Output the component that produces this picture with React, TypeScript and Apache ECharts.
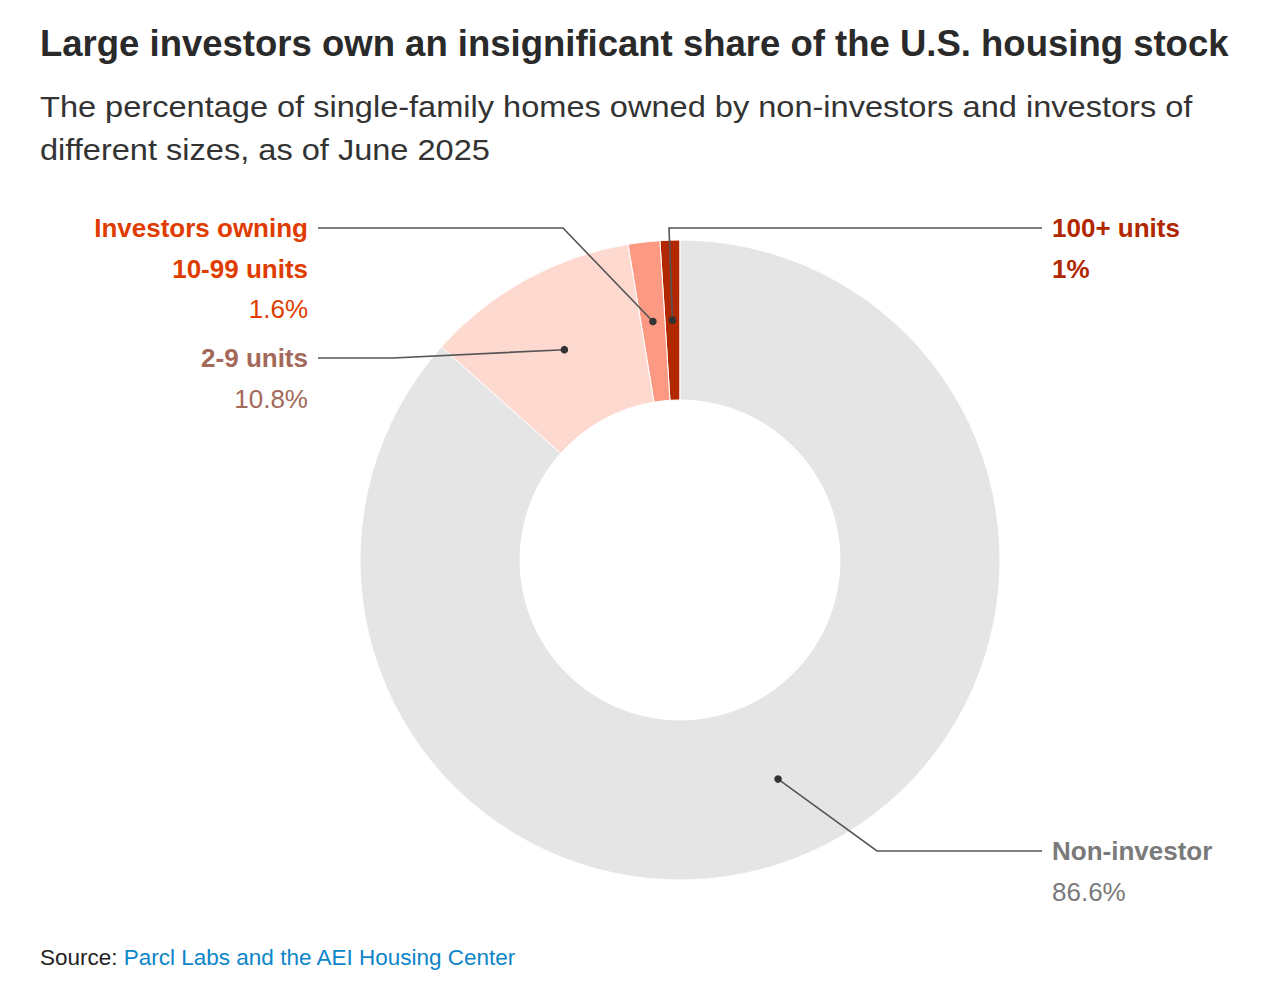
import React, { useEffect, useRef } from "react";
import * as echarts from "echarts";

const categories = ["100+ units", "10-99 units", "2-9 units", "Non-investor"];
const values = [1, 1.6, 10.8, 86.6];
const valueLabels = ["1%", "1.6%", "10.8%", "86.6%"];
const sliceColors = ["#b02700", "#fc9982", "#fed9cf", "#e5e5e5"];
const labelColors = ["#b02700", "#e03c00", "#a3695a", "#7a7a7a"];

const W = 1276;
const H = 1004;
const CX = 680;
const CY = 560;
const R_OUT = 320;
const R_IN = 160;
const R_DOT = 240;
const FONT = "'Liberation Sans', Arial, sans-serif";

// label layout: elbow point, line end, text anchor
const labelLayout = [
  { elbow: [669, 228], end: [1042, 228], tx: 1052, align: "left", lines: [{ t: "100+ units", bold: true }, { t: valueLabels[0], bold: true }] },
  { elbow: [563, 228], end: [318, 228], tx: 308, align: "right", lines: [{ t: "Investors owning", bold: true }, { t: "10-99 units", bold: true }, { t: valueLabels[1], bold: false }] },
  { elbow: [393, 358], end: [318, 358], tx: 308, align: "right", lines: [{ t: "2-9 units", bold: true }, { t: valueLabels[2], bold: false }] },
  { elbow: [877, 851], end: [1042, 851], tx: 1052, align: "left", lines: [{ t: "Non-investor", bold: true }, { t: valueLabels[3], bold: false }] },
];

function dotPositions() {
  const total = values.reduce((a, b) => a + b, 0);
  let cum = 0;
  return values.map((v) => {
    const mid = cum + v / 2;
    cum += v;
    const ang = ((90 + (mid / total) * 360) * Math.PI) / 180;
    return [CX + R_DOT * Math.cos(ang), CY - R_DOT * Math.sin(ang)];
  });
}

export default function App() {
  const ref = useRef<HTMLDivElement>(null);
  useEffect(() => {
    if (!ref.current) return;
    const chart = echarts.init(ref.current, undefined, { renderer: "svg" });
    const dots = dotPositions();
    const graphics: any[] = [];
    graphics.push({
      type: "text", x: 40, y: 43,
      style: { text: "Large investors own an insignificant share of the U.S. housing stock", font: `bold 36.5px ${FONT}`, fill: "#2a2a2a", verticalAlign: "middle" },
    });
    graphics.push({
      type: "text", x: 40, y: 107, scaleX: 1.085,
      style: { text: "The percentage of single-family homes owned by non-investors and investors of", font: `30px ${FONT}`, fill: "#333333", verticalAlign: "middle" },
    });
    graphics.push({
      type: "text", x: 40, y: 150, scaleX: 1.085,
      style: { text: "different sizes, as of June 2025", font: `30px ${FONT}`, fill: "#333333", verticalAlign: "middle" },
    });
    graphics.push({
      type: "text", x: 40, y: 957,
      style: {
        text: "{a|Source: }{b|Parcl Labs and the AEI Housing Center}",
        verticalAlign: "middle",
        rich: {
          a: { font: `22.5px ${FONT}`, fill: "#222222" },
          b: { font: `22.5px ${FONT}`, fill: "#0c85c9" },
        },
      },
    });
    labelLayout.forEach((l, i) => {
      const d = dots[i];
      graphics.push({
        type: "polyline",
        shape: { points: [d, l.elbow, l.end] },
        style: { stroke: "#555555", lineWidth: 1.6, fill: null },
        z: 10,
      });
      graphics.push({ type: "circle", shape: { cx: d[0], cy: d[1], r: 3.8 }, style: { fill: "#333333" }, z: 11 });
      l.lines.forEach((ln, j) => {
        graphics.push({
          type: "text",
          x: l.tx,
          y: l.end[1] + j * 40.5,
          style: {
            text: ln.t,
            font: `${ln.bold ? "bold " : ""}26px ${FONT}`,
            fill: labelColors[i],
            align: l.align,
            verticalAlign: "middle",
          },
          z: 12,
        });
      });
    });
    chart.setOption({
      animation: false,
      series: [
        {
          type: "pie",
          center: [CX, CY],
          radius: [R_IN, R_OUT],
          startAngle: 90,
          clockwise: false,
          silent: true,
          label: { show: false },
          labelLine: { show: false },
          itemStyle: { borderColor: "#ffffff", borderWidth: 1 },
          data: categories.map((c, i) => ({ name: c, value: values[i], itemStyle: { color: sliceColors[i] } })),
        },
      ],
      graphic: graphics,
    });
    return () => chart.dispose();
  }, []);
  return <div ref={ref} style={{ position: "fixed", left: 0, top: 0, width: W, height: H, background: "#fff" }} />;
}
